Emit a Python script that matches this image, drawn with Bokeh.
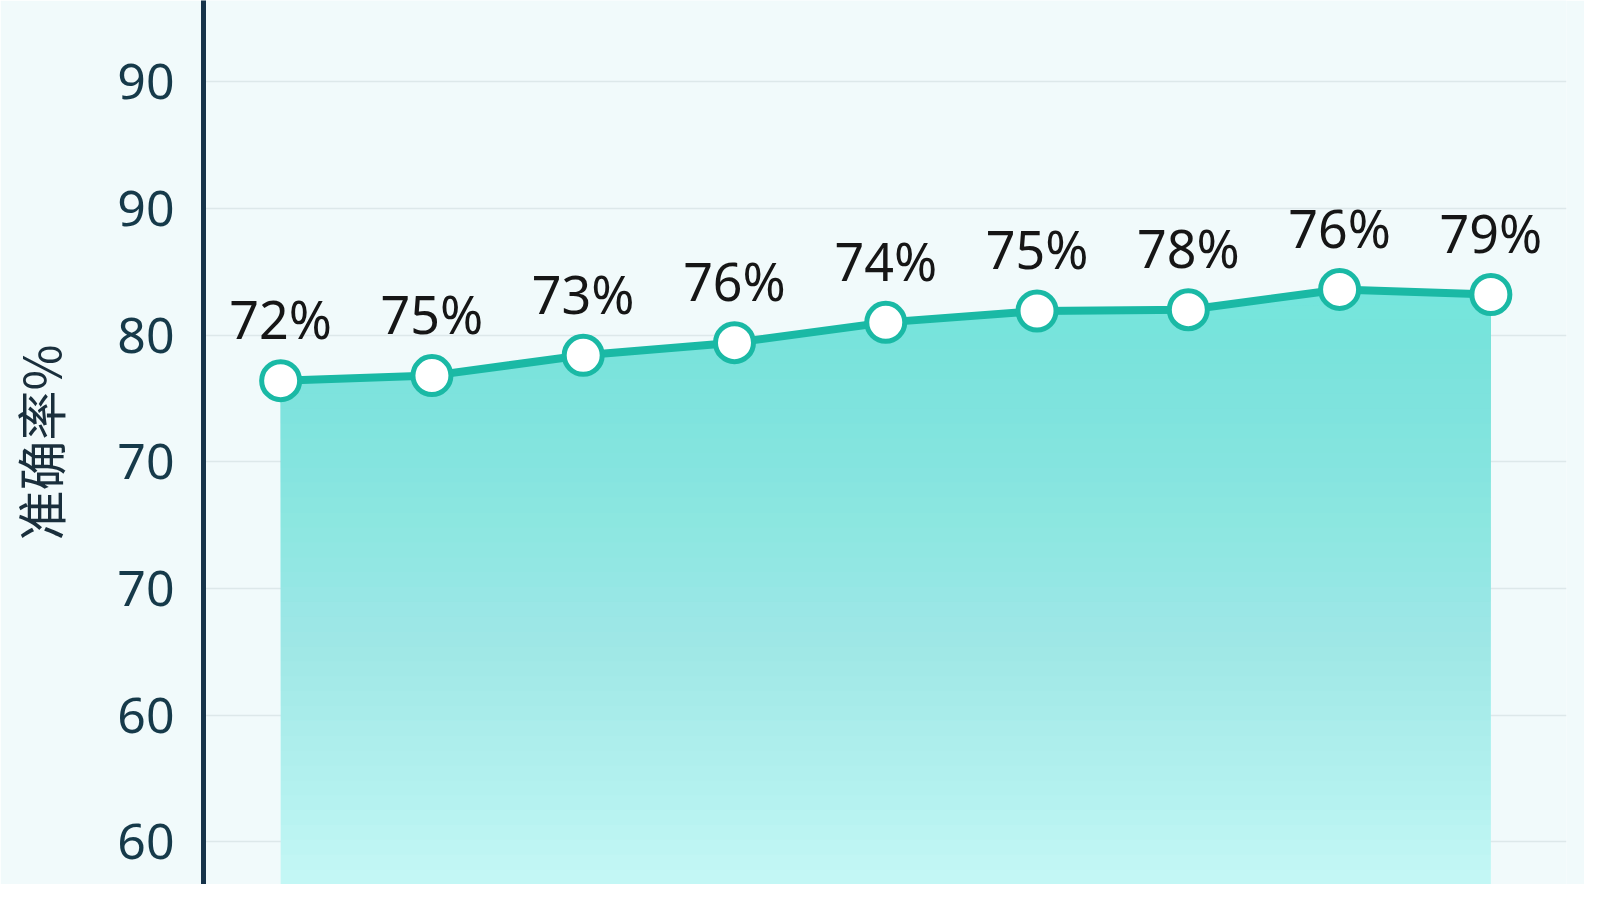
import numpy as np
from bokeh.plotting import figure
from bokeh.models import Range1d, FixedTicker
from bokeh.core.properties import value
from bokeh.embed import file_html
from bokeh.resources import INLINE

# ---- data ----
X_INDEX = [0, 1, 2, 3, 4, 5, 6, 7, 8]
ACCURACY = [78.2, 78.4, 79.2, 79.7, 80.5, 80.95, 81.0, 81.8, 81.6]
POINT_LABELS = ["72%", "75%", "73%", "76%", "74%", "75%", "78%", "76%", "79%"]
Y_TICKS = [90, 85, 80, 75, 70, 65, 60]
Y_TICK_LABELS = ["90", "90", "80", "70", "70", "60", "60"]
Y_TITLE = "准确率%"

# ---- style ----
BG = "#f1fafb"
LINE_C = "#1ab9a5"
C_TOP = "#74e6dd"
C_BOTTOM = "#c3f7f5"
Y0, Y1 = 58.32, 93.2

p = figure(width=1584, height=884, output_backend="svg", toolbar_location=None,
           x_range=Range1d(-0.51, 8.5), y_range=Range1d(Y0, Y1),
           x_axis_location=None,
           min_border_left=196, min_border_right=18, min_border_top=0, min_border_bottom=0,
           background_fill_color=BG, border_fill_color=BG, outline_line_color=None)

p.xgrid.visible = False
p.ygrid.grid_line_color = "#dde8ea"
p.ygrid.grid_line_width = 1.5

ax = p.yaxis[0]
ax.ticker = FixedTicker(ticks=Y_TICKS)
ax.major_label_overrides = {t: lab for t, lab in zip(Y_TICKS, Y_TICK_LABELS)}
ax.axis_line_color = "#16334a"
ax.axis_line_width = 5
ax.major_tick_line_color = None
ax.minor_tick_line_color = None
ax.major_label_text_font = "Noto Sans"
ax.major_label_text_font_size = "50px"
ax.major_label_text_color = "#163a4a"
ax.major_label_standoff = 23
ax.axis_label = Y_TITLE
ax.axis_label_text_font = "Noto Sans CJK SC"
ax.axis_label_text_font_size = "50px"
ax.axis_label_text_font_style = "normal"
ax.axis_label_text_color = "#1a2f3c"
ax.axis_label_standoff = 39

# gradient area: base + stacked layers with alpha giving a linear blend
acc = np.array(ACCURACY, dtype=float)
p.varea(x=X_INDEX, y1=Y0 - 5, y2=acc, fill_color=C_BOTTOM, fill_alpha=1.0)
N = 40
ytop = acc.max()
for k in range(1, N + 1):
    lvl = Y0 + (ytop - Y0) * k / N
    p.varea(x=X_INDEX, y1=np.minimum(acc, lvl), y2=acc,
            fill_color=C_TOP, fill_alpha=1.0 / (N - k + 1))

p.line(X_INDEX, ACCURACY, line_color=LINE_C, line_width=8)
p.scatter(X_INDEX, ACCURACY, size=38, fill_color="white", line_color=LINE_C, line_width=5)
p.text(X_INDEX, ACCURACY, text=POINT_LABELS, text_align="center", text_baseline="alphabetic",
       y_offset=-62, text_font=value("Noto Sans"), text_font_size="52px", text_color="#161616")

open("out.html", "w").write(file_html(p, INLINE))
